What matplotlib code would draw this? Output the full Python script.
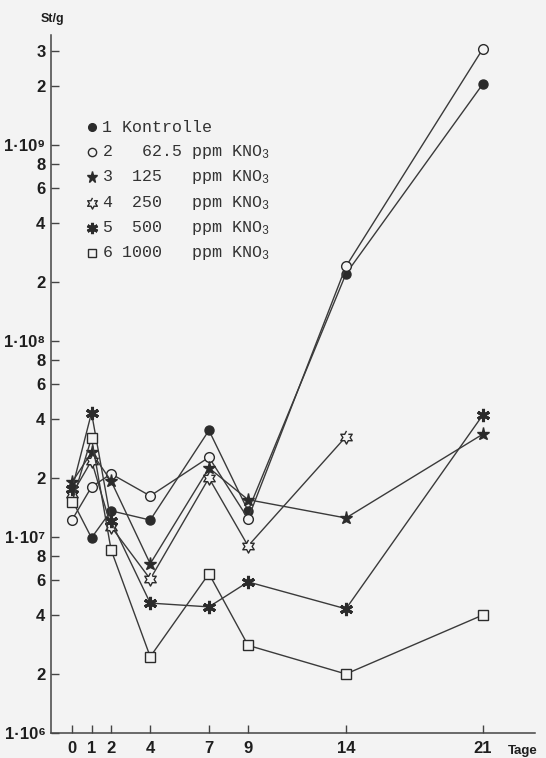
import numpy as np
import matplotlib
matplotlib.use('Agg')
from matplotlib import pyplot as plt
from matplotlib.ticker import FixedLocator, NullLocator

plt.rcParams['mathtext.default'] = 'regular'

# Tage (days) and Keimzahlen (St/g) per series
days = [0, 1, 2, 4, 7, 9, 14, 21]
kontrolle = [1.55e7, 9.9e6, 1.36e7, 1.22e7, 3.5e7, 1.36e7, 2.2e8, 2.05e9]
ppm_62 = [1.22e7, 1.8e7, 2.1e7, 1.62e7, 2.55e7, 1.24e7, 2.4e8, 3.1e9]
ppm_125 = [1.9e7, 2.7e7, 1.93e7, 7.3e6, 2.25e7, 1.55e7, 1.25e7, 3.35e7]
days_250 = [0, 1, 2, 4, 7, 9, 14]
ppm_250 = [1.65e7, 2.45e7, 1.13e7, 6.1e6, 2.0e7, 9.0e6, 3.25e7]
ppm_500 = [1.75e7, 4.3e7, 1.2e7, 4.6e6, 4.4e6, 5.9e6, 4.3e6, 4.2e7]
ppm_1000 = [1.5e7, 3.2e7, 8.6e6, 2.45e6, 6.5e6, 2.8e6, 2.0e6, 4.0e6]

legend_labels = ['1 Kontrolle',
                 '2   62.5 ppm KNO$_3$',
                 '3  125   ppm KNO$_3$',
                 '4  250   ppm KNO$_3$',
                 '5  500   ppm KNO$_3$',
                 '6 1000   ppm KNO$_3$']

x_ticks = [0, 1, 2, 4, 7, 9, 14, 21]
y_ticks = [1e6, 2e6, 4e6, 6e6, 8e6,
           1e7, 2e7, 4e7, 6e7, 8e7,
           1e8, 2e8, 4e8, 6e8, 8e8,
           1e9, 2e9, 3e9]
y_ticklabels = ['1·10⁶', '2', '4', '6', '8',
                '1·10⁷', '2', '4', '6', '8',
                '1·10⁸', '2', '4', '6', '8',
                '1·10⁹', '2', '3']

ink = '#2b2b2b'
bg = '#f3f3f3'
sans = ['Liberation Sans', 'DejaVu Sans']
mono = ['Liberation Mono', 'DejaVu Sans Mono']

# six pointed open star (marker 4)
ang = np.deg2rad(90 + 30 * np.arange(12))
rad = np.where(np.arange(12) % 2 == 0, 1.0, 0.55)
hexagram = list(zip(rad * np.cos(ang), rad * np.sin(ang)))

styles = [
    dict(marker='o', ms=6.5, mfc=ink, mec=ink),
    dict(marker='o', ms=7, mfc=bg, mec=ink, mew=1.0),
    dict(marker='*', ms=9.5, mfc=ink, mec=ink),
    dict(marker=hexagram, ms=9.5, mfc=bg, mec=ink, mew=1.0),
    dict(marker=(6, 2, 0), ms=9.5, mec=ink, mew=2.2),
    dict(marker='s', ms=7, mfc=bg, mec=ink, mew=1.0),
]

series = [(days, kontrolle), (days, ppm_62), (days, ppm_125),
          (days_250, ppm_250), (days, ppm_500), (days, ppm_1000)]

fig = plt.figure(figsize=(5.46, 7.58), dpi=100, facecolor=bg)
ax = fig.add_axes([51 / 546, 25 / 758, 484 / 546, 698 / 758])
ax.set_facecolor(bg)

for (xs, ys), st in zip(series, styles):
    ax.plot(xs, ys, color='#3a3a3a', lw=1.0, zorder=2, **st)

ax.set_yscale('log')
ax.set_ylim(1e6, 3.64e9)
ax.set_xlim(-1.07, 23.66)

ax.yaxis.set_major_locator(FixedLocator(y_ticks))
ax.yaxis.set_minor_locator(NullLocator())
ax.set_yticklabels(y_ticklabels)
ax.set_xticks(x_ticks)
ax.set_xticklabels([str(d) for d in x_ticks])

for s in ['top', 'right']:
    ax.spines[s].set_visible(False)
for s in ['left', 'bottom']:
    ax.spines[s].set_color('#444444')
    ax.spines[s].set_linewidth(1.1)

ax.tick_params(axis='both', direction='in', length=5.5, width=1.0,
               color='#444444', labelcolor='#1e1e1e')
ax.tick_params(axis='y', pad=4)
ax.tick_params(axis='x', pad=6)
for lab in ax.get_yticklabels() + ax.get_xticklabels():
    lab.set_fontfamily(sans)
    lab.set_fontweight('bold')
    lab.set_fontsize(12)

fig.text(52 / 546, 1 - 19 / 758, 'St/g', ha='center', va='center',
         fontfamily=sans, fontweight='bold', fontsize=9, color='#1e1e1e')
fig.text(508 / 546, 1 - 751 / 758, 'Tage', ha='left', va='center',
         fontfamily=sans, fontweight='bold', fontsize=9.5, color='#1e1e1e')

# legend, typewriter style
for i, (label, st) in enumerate(zip(legend_labels, styles)):
    py = 127 + 25.2 * i
    ax.plot([92 / 546], [1 - py / 758], transform=fig.transFigure,
            clip_on=False, **{**st, 'ms': st['ms'] * 0.85})
    fig.text(102 / 546, 1 - py / 758, label, ha='left', va='center',
             fontfamily=mono, fontsize=12, color='#333333')

plt.savefig('out.png', dpi=100, facecolor=bg)
